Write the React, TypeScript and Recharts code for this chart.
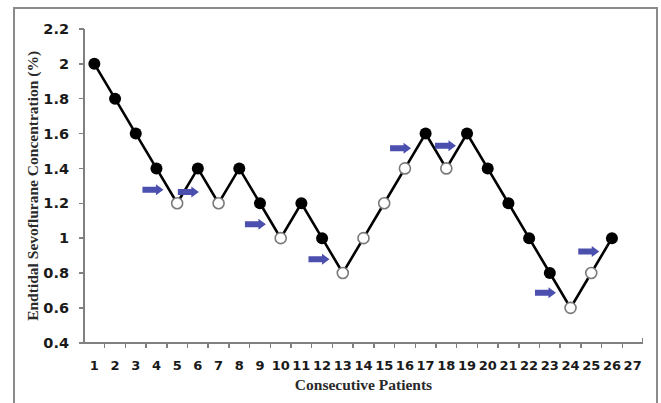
import {
  ComposedChart, Line, XAxis, YAxis,
} from 'recharts';

// patient number, endtidal concentration and response (true = open circle)
const patients = [1, 2, 3, 4, 5, 6, 7, 8, 9, 10, 11, 12, 13, 14, 15, 16, 17, 18, 19, 20, 21, 22, 23, 24, 25, 26];
const concentrations = [2.0, 1.8, 1.6, 1.4, 1.2, 1.4, 1.2, 1.4, 1.2, 1.0, 1.2, 1.0, 0.8, 1.0, 1.2, 1.4, 1.6, 1.4, 1.6, 1.4, 1.2, 1.0, 0.8, 0.6, 0.8, 1.0];
const openPoints = [false, false, false, false, true, false, true, false, false, true, false, false, true, true, true, true, false, true, false, false, false, false, false, true, true, false];

// blue arrows (crossover pairs), centre of each arrow
const arrowX = [3.83, 5.54, 8.78, 11.85, 15.79, 17.96, 22.79, 24.88];
const arrowY = [1.277, 1.264, 1.08, 0.879, 1.516, 1.53, 0.687, 0.923];

const xTicks = Array.from({ length: 27 }, (_, i) => i + 1);
const yTicks = [0.4, 0.6, 0.8, 1.0, 1.2, 1.4, 1.6, 1.8, 2.0, 2.2];
const Y_MIN = 0.4;
const Y_MAX = 2.2;

const W = 661;
const H = 403;
const MARGIN = { top: 29, right: 18, left: 0, bottom: 0 };
const Y_WIDTH = 84;
const PLOT_H = 313.7;
const X_HEIGHT = H - MARGIN.top - PLOT_H;
const PLOT_W = W - MARGIN.right - Y_WIDTH;
const BAND = PLOT_W / xTicks.length; // category width, tick marks sit between categories

const AXIS = '#808080';
const ARROW = '#4b4fae';
const TICK_FONT = '"DejaVu Sans", sans-serif';
const TITLE_FONT = '"Liberation Serif", "Times New Roman", serif';

const data = patients.map((p, i) => ({ x: p, y: concentrations[i], open: openPoints[i] }));
const arrows = arrowX.map((x, i) => ({ x, a: arrowY[i] }));

function Dot(props: any) {
  const { cx, cy, payload } = props;
  if (cx == null || cy == null) return null;
  if (payload.open) {
    return <circle cx={cx} cy={cy} r={5.5} fill="#fff" stroke="#7a7a7a" strokeWidth={1.6} />;
  }
  return <circle cx={cx} cy={cy} r={6} fill="#000" stroke="none" />;
}

function Arrow(props: any) {
  const { cx, cy } = props;
  if (cx == null || cy == null) return null;
  const l = cx - 10.5, r = cx + 10.5, hx = cx + 3;
  const d = `M${l},${cy - 3} L${hx},${cy - 3} L${hx},${cy - 5.5} L${r},${cy} L${hx},${cy + 5.5} L${hx},${cy + 3} L${l},${cy + 3} Z`;
  return <path d={d} fill={ARROW} stroke="none" />;
}

function XTick(props: any) {
  const { x, y, payload } = props;
  return (
    <text x={x} y={y + 27} textAnchor="middle" fontSize={13} fontWeight={700} fill="#1a1a1a" fontFamily={TICK_FONT}>
      {payload.value}
    </text>
  );
}

function YTick(props: any) {
  const { x, y, payload } = props;
  return (
    <text x={x - 15} y={y} dy="0.36em" textAnchor="end" fontSize={14.5} fontWeight={700} fill="#1a1a1a" fontFamily={TICK_FONT}>
      {String(Number(payload.value.toFixed(1)))}
    </text>
  );
}

// axis lines and tick marks as plain boxes over the chart
function AxisFrame() {
  const base = MARGIN.top + PLOT_H;
  const box = (left: number, top: number, width: number, height: number, key: string) => (
    <div key={key} style={{ position: 'absolute', left, top, width, height, background: AXIS }} />
  );
  return (
    <div style={{ position: 'absolute', left: 0, top: 0, width: W, height: H, pointerEvents: 'none' }}>
      {box(Y_WIDTH - 1, MARGIN.top, 2, PLOT_H, 'y-line')}
      {box(Y_WIDTH - 5, base - 1, PLOT_W + 5, 2, 'x-line')}
      {yTicks.map((v) => box(Y_WIDTH - 5, MARGIN.top + (PLOT_H * (Y_MAX - v)) / (Y_MAX - Y_MIN) - 0.75, 5, 1.5, `yt-${v}`))}
      {xTicks.slice(0, -1).map((t) => box(Y_WIDTH + t * BAND - 0.75, base, 1.5, 5, `xt-${t}`))}
      {box(Y_WIDTH + PLOT_W - 1.5, base - 5, 1.5, 5, 'x-end')}
    </div>
  );
}

export default function App() {
  return (
    <div style={{ position: 'fixed', left: 0, top: 0, width: W, height: H, background: '#fff' }}>
      <div style={{ position: 'absolute', left: 0, top: 0 }}>
        <ComposedChart width={W} height={H} data={data} margin={MARGIN}>
          <XAxis
            type="number"
            dataKey="x"
            domain={[0.5, 27.5]}
            ticks={xTicks}
            interval={0}
            height={X_HEIGHT}
            axisLine={false}
            tickLine={false}
            tickSize={0}
            tickMargin={0}
            tick={<XTick />}
            allowDataOverflow
            label={{
              value: 'Consecutive Patients',
              position: 'insideBottom',
              offset: 13,
              style: { fontSize: 15.5, fontWeight: 700, fill: '#2a2a2a', fontFamily: TITLE_FONT },
            }}
          />
          <YAxis
            type="number"
            domain={[Y_MIN, Y_MAX]}
            ticks={yTicks}
            interval={0}
            width={Y_WIDTH}
            axisLine={false}
            tickLine={false}
            tickSize={0}
            tickMargin={0}
            tick={<YTick />}
            label={{
              value: 'Endtidal Sevoflurane Concentration (%)',
              angle: -90,
              position: 'insideLeft',
              offset: 33,
              style: { textAnchor: 'middle', fontSize: 15.5, fontWeight: 700, fill: '#2a2a2a', fontFamily: TITLE_FONT },
            }}
          />
          <Line
            type="linear"
            dataKey="y"
            stroke="#000"
            strokeWidth={2.6}
            dot={<Dot />}
            activeDot={false}
            isAnimationActive={false}
          />
          {/* arrows: markers only, no connecting line */}
          <Line
            data={arrows}
            type="linear"
            dataKey="a"
            stroke="none"
            dot={<Arrow />}
            activeDot={false}
            isAnimationActive={false}
          />
        </ComposedChart>
      </div>
      <AxisFrame />
      {/* frame */}
      <div
        style={{
          position: 'absolute', left: 13, top: 7, width: 641, height: 400, pointerEvents: 'none',
          borderLeft: '2px solid #8a8a8a', borderTop: '2px solid #8a8a8a', borderRight: '2px solid #8a8a8a',
        }}
      />
    </div>
  );
}
